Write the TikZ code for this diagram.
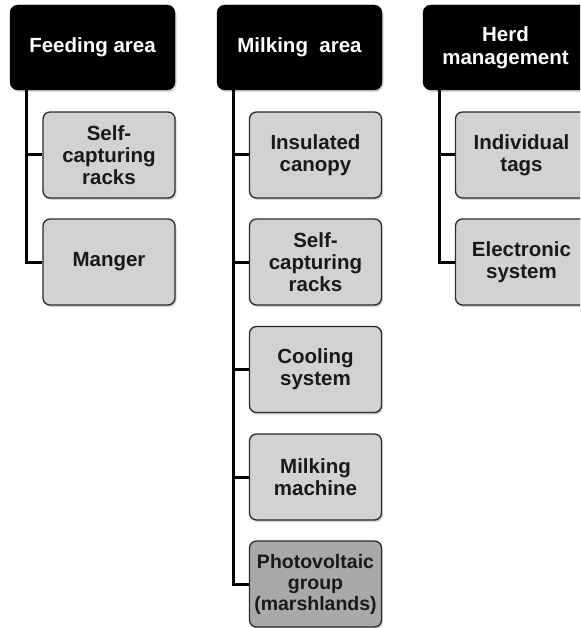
\documentclass[tikz,border=0pt]{standalone}
\usepackage{fontspec}
\setmainfont{Liberation Sans}
\usetikzlibrary{shadows}
\definecolor{itemgray}{HTML}{D2D2D2}
\definecolor{itemdark}{HTML}{A9A9A9}
\definecolor{itemline}{HTML}{2A2A2A}
\tikzset{
  hdr/.style={rectangle, rounded corners=8pt, fill=black, draw=black,
    minimum width=165pt, minimum height=85pt, inner sep=2pt,
    text=white, align=center, font=\fontsize{20.5}{23}\selectfont\bfseries,
    drop shadow={shadow xshift=1.5pt, shadow yshift=-2pt, opacity=0.35}},
  itembox/.style={rectangle, rounded corners=7pt, fill=itemgray, draw=itemline, line width=1.3pt,
    minimum width=132pt, minimum height=86pt, inner sep=2pt,
    text=black!90, align=center, font=\fontsize{20.5}{22}\selectfont\bfseries,
    drop shadow={shadow xshift=1.5pt, shadow yshift=-2pt, opacity=0.35}},
  itemboxdark/.style={itembox, fill=itemdark, font=\fontsize{19.5}{21}\selectfont\bfseries},
  conn/.style={line width=3pt, black}
}
\begin{document}
\begin{tikzpicture}[x=1pt, y=-1pt]
\useasboundingbox (0,0) rectangle (580,628);
\clip (0,0) rectangle (580,628);
% Feeding area
\node[hdr] (fa) at (92.5,47.5) {Feeding area};
\node[itembox] (fa1) at (109,155) {Self-\\capturing\\racks};
\node[itembox] (fa2) at (109,262) {Manger};
\coordinate (fat) at ([xshift=-66pt]fa.south);
% Milking area
\node[hdr] (ma) at (299.5,47.5) {Milking\ \ area};
\node[itembox] (ma1) at (315.5,155) {Insulated\\canopy};
\node[itembox] (ma2) at (315.5,262) {Self-\\capturing\\racks};
\node[itembox] (ma3) at (315.5,369.5) {Cooling\\system};
\node[itembox] (ma4) at (315.5,477) {Milking\\machine};
\node[itemboxdark] (ma5) at (315.5,584) {Photovoltaic\\group\\(marshlands)};
\coordinate (mat) at ([xshift=-66pt]ma.south);
% Herd management
\node[hdr] (hm) at (505.5,47.5) {Herd\\management};
\node[itembox] (hm1) at (521.5,155) {Individual\\tags};
\node[itembox] (hm2) at (521.5,262) {Electronic\\system};
\coordinate (hmt) at ([xshift=-66pt]hm.south);
% connectors
\begin{scope}[on background layer/.try]
\end{scope}
\draw[conn] (fat) |- (fa2.west);
\draw[conn] (fat) |- (fa1.west);
\draw[conn] (mat) |- (ma5.west);
\draw[conn] (mat) |- (ma1.west);
\draw[conn] (mat) |- (ma2.west);
\draw[conn] (mat) |- (ma3.west);
\draw[conn] (mat) |- (ma4.west);
\draw[conn] (hmt) |- (hm2.west);
\draw[conn] (hmt) |- (hm1.west);
\end{tikzpicture}
\end{document}
